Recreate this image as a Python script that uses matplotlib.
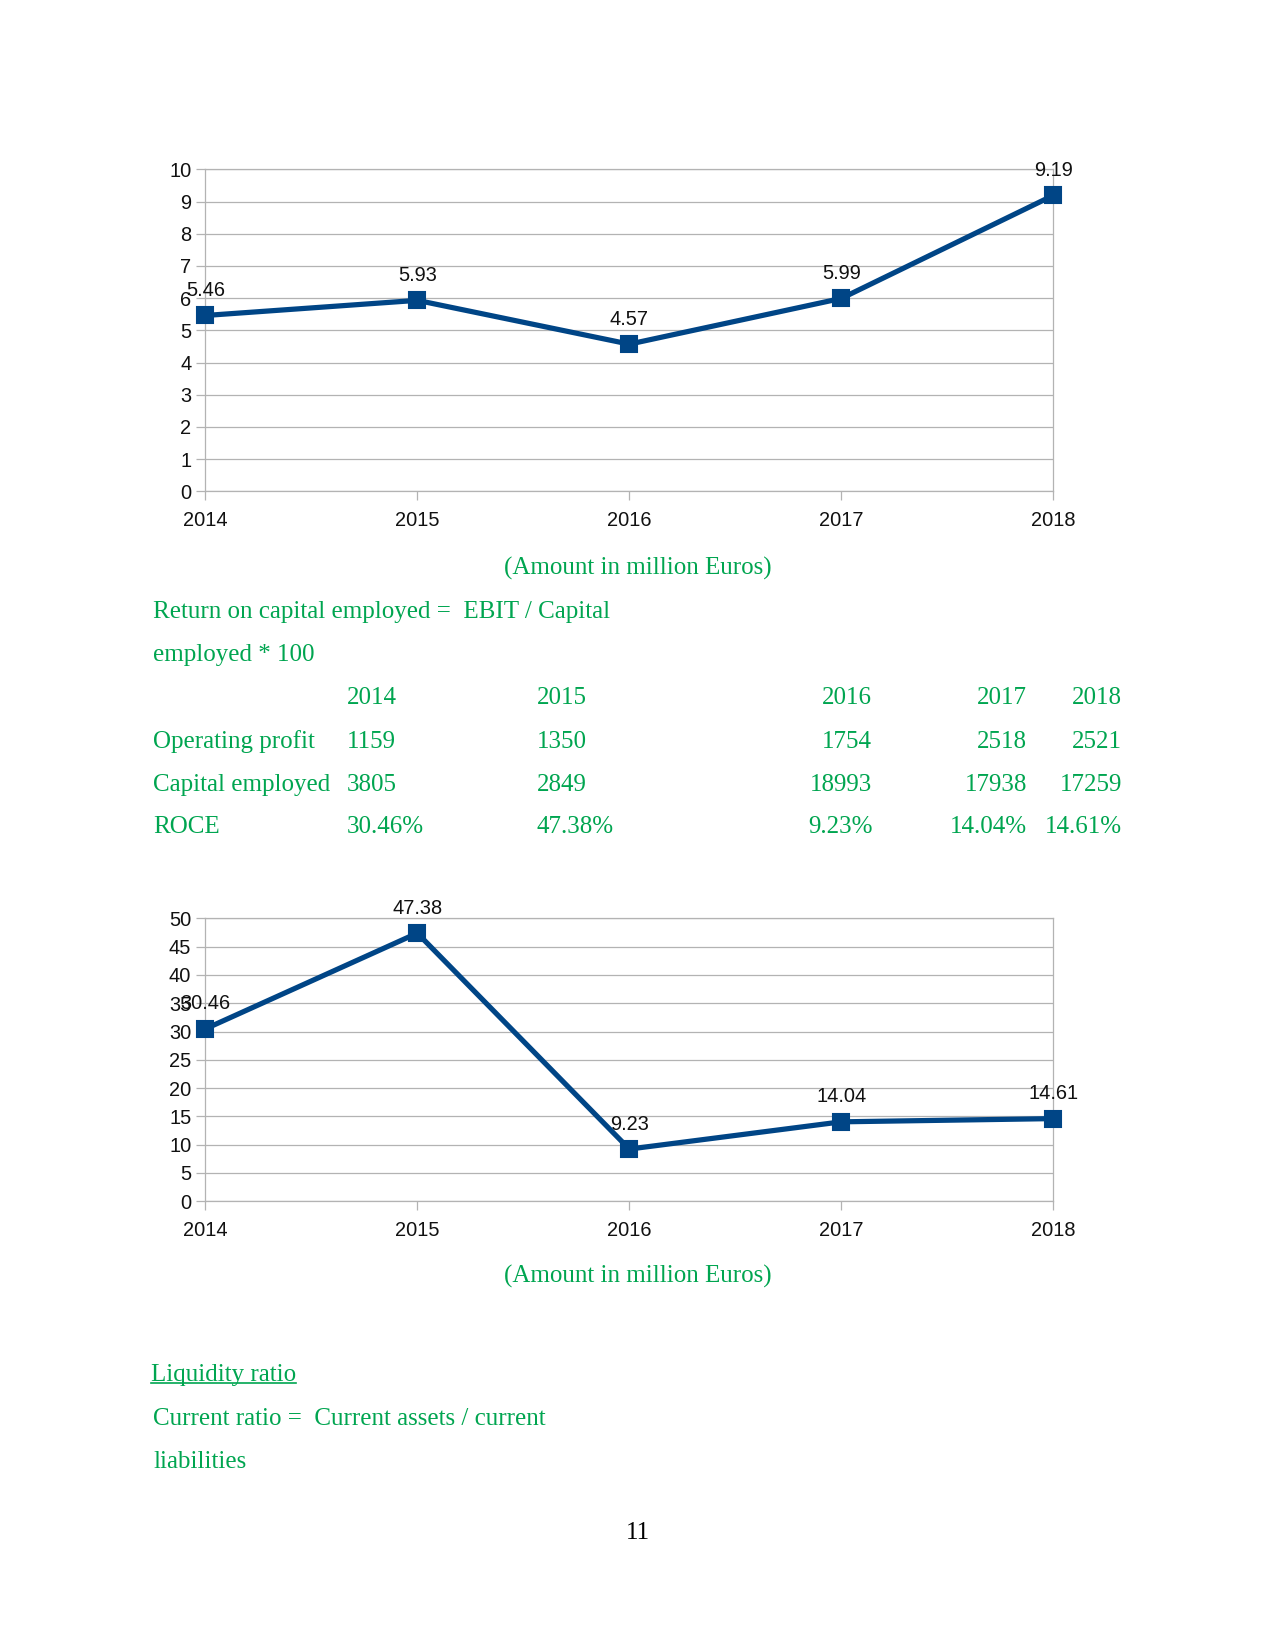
import matplotlib
matplotlib.use("Agg")
import matplotlib.pyplot as plt
from matplotlib.lines import Line2D

# ---------------- data ----------------
years = ["2014", "2015", "2016", "2017", "2018"]
chart1_values = [5.46, 5.93, 4.57, 5.99, 9.19]
chart2_values = [30.46, 47.38, 9.23, 14.04, 14.61]
operating_profit = ["1159", "1350", "1754", "2518", "2521"]
capital_employed = ["3805", "2849", "18993", "17938", "17259"]
roce = ["30.46%", "47.38%", "9.23%", "14.04%", "14.61%"]
row_labels = ["Operating profit", "Capital employed", "ROCE"]

# ---------------- style ----------------
W, H = 1275, 1651
DPI = 150
GREEN = "#00a550"
BLUE = "#004586"
GRID = "#b3b3b3"
SERIF = "Liberation Serif"
SANS = "Liberation Sans"
CFS = 9.6

fig = plt.figure(figsize=(W / DPI, H / DPI), dpi=DPI)


def fx(x):
    return x / W


def fy(y):
    return 1 - y / H


def make_chart(rect_px, values, ymax, ystep):
    left, top, right, bottom = rect_px
    ax = fig.add_axes([fx(left), fy(bottom), fx(right - left), (bottom - top) / H])
    xs = list(range(len(years)))
    ax.plot(xs, values, color=BLUE, lw=2.5, marker="s", ms=7.6,
            mfc=BLUE, mec=BLUE, clip_on=False, zorder=5)
    for x, v in zip(xs, values):
        ax.annotate(f"{v:.2f}", (x, v), xytext=(0, 12), textcoords="offset points",
                    ha="center", va="center", fontsize=CFS, family=SANS,
                    color="#111111", zorder=6, annotation_clip=False)
    ax.set_xlim(0, len(years) - 1)
    ax.set_ylim(0, ymax)
    ax.set_xticks(xs)
    ax.set_xticklabels(years)
    yt = list(range(0, ymax + 1, ystep))
    ax.set_yticks(yt)
    ax.set_yticklabels([str(t) for t in yt])
    ax.grid(axis="y", color=GRID, lw=0.6)
    ax.set_axisbelow(True)
    for s in ax.spines.values():
        s.set_color(GRID)
        s.set_linewidth(0.6)
    ax.tick_params(axis="both", color=GRID, width=0.6, length=4.3,
                   labelsize=CFS, labelcolor="#111111")
    ax.tick_params(axis="x", pad=5.2)
    ax.tick_params(axis="y", pad=2.4)
    for lab in ax.get_xticklabels() + ax.get_yticklabels():
        lab.set_family(SANS)
    return ax


make_chart((205.3, 169.3, 1053.3, 491.3), chart1_values, 10, 1)
make_chart((205.3, 918.3, 1053.3, 1201.3), chart2_values, 50, 5)


def body(x, y, s, ha="left", color=GREEN):
    return fig.text(fx(x), fy(y), s, ha=ha, va="baseline", fontsize=12,
                    family=SERIF, color=color)


body(637.5, 574.3, "(Amount in million Euros)", ha="center")
body(153, 618.3, "Return on capital employed =  EBIT / Capital")
body(153, 661, "employed * 100")

row_y = [704.3, 747.7, 790.7, 833.3]
col_x = [346.7, 536.7, 872.3, 1027.3, 1122]
col_ha = ["left", "left", "right", "right", "right"]
rows = [years, operating_profit, capital_employed, roce]
for i, r in enumerate(rows):
    if i > 0:
        body(153, row_y[i], row_labels[i - 1])
    for j, val in enumerate(r):
        body(col_x[j], row_y[i], val, ha=col_ha[j])

body(637.5, 1282.7, "(Amount in million Euros)", ha="center")

liq = body(150.7, 1380.7, "Liquidity ratio")
body(153, 1425, "Current ratio =  Current assets / current")
body(153, 1468.3, "liabilities")
body(637.5, 1539.3, "11", ha="center", color="black")

fig.canvas.draw()
bb = liq.get_window_extent(renderer=fig.canvas.get_renderer())
uy = fy(1382.8)
fig.add_artist(Line2D([bb.x0 / W, bb.x1 / W], [uy, uy], color=GREEN, lw=0.8,
                      transform=fig.transFigure))

fig.savefig("out.png", dpi=DPI, facecolor="white")
